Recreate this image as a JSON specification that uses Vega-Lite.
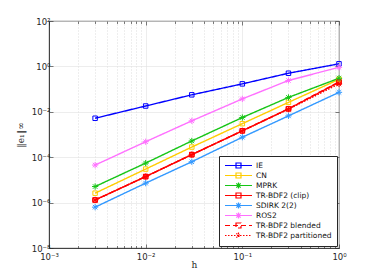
{
  "$schema": "https://vega.github.io/schema/vega-lite/v6.json",
  "width": 290,
  "height": 227,
  "autosize": {"type": "none"},
  "padding": {"left": 49, "top": 21, "right": 35, "bottom": 32},
  "background": "white",
  "config": {
    "view": {"stroke": "#262626", "strokeWidth": 0.8},
    "font": "DejaVu Sans",
    "axis": {"domainColor": "#262626", "tickColor": "#262626", "labelColor": "#262626", "labelFontSize": 8.5, "labelFont": "DejaVu Sans", "titleColor": "#262626", "titleFontWeight": "normal", "titleFont": "DejaVu Serif", "titleFontSize": 9}
  },
  "data": {"values": [
    {"method": "IE", "h": 0.003, "err": 0.0052},
    {"method": "IE", "h": 0.01, "err": 0.018},
    {"method": "IE", "h": 0.03, "err": 0.056},
    {"method": "IE", "h": 0.1, "err": 0.17},
    {"method": "IE", "h": 0.3, "err": 0.5},
    {"method": "IE", "h": 1, "err": 1.3},
    {"method": "CN", "h": 0.003, "err": 2.6e-6},
    {"method": "CN", "h": 0.01, "err": 3.0e-5},
    {"method": "CN", "h": 0.03, "err": 2.8e-4},
    {"method": "CN", "h": 0.1, "err": 3.0e-3},
    {"method": "CN", "h": 0.3, "err": 2.6e-2},
    {"method": "CN", "h": 1, "err": 0.27},
    {"method": "MPRK", "h": 0.003, "err": 5.1e-6},
    {"method": "MPRK", "h": 0.01, "err": 5.5e-5},
    {"method": "MPRK", "h": 0.03, "err": 5.2e-4},
    {"method": "MPRK", "h": 0.1, "err": 5.6e-3},
    {"method": "MPRK", "h": 0.3, "err": 4.3e-2},
    {"method": "MPRK", "h": 1, "err": 0.30},
    {"method": "TR-BDF2 (clip)", "h": 0.003, "err": 1.3e-6},
    {"method": "TR-BDF2 (clip)", "h": 0.01, "err": 1.4e-5},
    {"method": "TR-BDF2 (clip)", "h": 0.03, "err": 1.3e-4},
    {"method": "TR-BDF2 (clip)", "h": 0.1, "err": 1.45e-3},
    {"method": "TR-BDF2 (clip)", "h": 0.3, "err": 1.35e-2},
    {"method": "TR-BDF2 (clip)", "h": 1, "err": 0.2},
    {"method": "SDIRK 2(2)", "h": 0.003, "err": 6.3e-7},
    {"method": "SDIRK 2(2)", "h": 0.01, "err": 7.2e-6},
    {"method": "SDIRK 2(2)", "h": 0.03, "err": 6.3e-5},
    {"method": "SDIRK 2(2)", "h": 0.1, "err": 7.6e-4},
    {"method": "SDIRK 2(2)", "h": 0.3, "err": 6.6e-3},
    {"method": "SDIRK 2(2)", "h": 1, "err": 0.072},
    {"method": "ROS2", "h": 0.003, "err": 4.5e-5},
    {"method": "ROS2", "h": 0.01, "err": 4.8e-4},
    {"method": "ROS2", "h": 0.03, "err": 4.0e-3},
    {"method": "ROS2", "h": 0.1, "err": 3.7e-2},
    {"method": "ROS2", "h": 0.3, "err": 0.24},
    {"method": "ROS2", "h": 1, "err": 0.91},
    {"method": "TR-BDF2 blended", "h": 0.003, "err": 1.3e-6},
    {"method": "TR-BDF2 blended", "h": 0.01, "err": 1.4e-5},
    {"method": "TR-BDF2 blended", "h": 0.03, "err": 1.3e-4},
    {"method": "TR-BDF2 blended", "h": 0.1, "err": 1.45e-3},
    {"method": "TR-BDF2 blended", "h": 0.3, "err": 1.35e-2},
    {"method": "TR-BDF2 blended", "h": 1, "err": 0.21},
    {"method": "TR-BDF2 partitioned", "h": 0.003, "err": 1.3e-6},
    {"method": "TR-BDF2 partitioned", "h": 0.01, "err": 1.4e-5},
    {"method": "TR-BDF2 partitioned", "h": 0.03, "err": 1.3e-4},
    {"method": "TR-BDF2 partitioned", "h": 0.1, "err": 1.45e-3},
    {"method": "TR-BDF2 partitioned", "h": 0.3, "err": 1.3e-2},
    {"method": "TR-BDF2 partitioned", "h": 1, "err": 0.17}
  ]},
  "resolve": {"axis": {"x": "independent", "y": "independent"}},
  "layer": [
    {
      "mark": {"type": "line", "strokeWidth": 1.4, "clip": true},
      "encoding": {
        "x": {"field": "h", "type": "quantitative", "title": "h",
          "scale": {"type": "log", "domain": [0.001, 1], "nice": false},
          "axis": {
            "orient": "bottom",
            "values": [0.001,0.002,0.003,0.004,0.005,0.006,0.007,0.008,0.009,0.01,0.02,0.03,0.04,0.05,0.06,0.07,0.08,0.09,0.1,0.2,0.3,0.4,0.5,0.6,0.7,0.8,0.9,1],
            "labelExpr": "datum.value==0.001?'10⁻³':datum.value==0.01?'10⁻²':datum.value==0.1?'10⁻¹':datum.value==1?'10⁰':''",
            "labelPadding": 8,
            "labelFlush": false,
            "labelOverlap": false,
            "tickSize": {"condition": {"test": "datum.value==0.001||datum.value==0.01||datum.value==0.1||datum.value==1", "value": -4}, "value": -2.5},
            "tickWidth": 0.6,
            "grid": true,
            "gridDash": {"condition": {"test": "datum.value==0.001||datum.value==0.01||datum.value==0.1||datum.value==1", "value": []}, "value": [1, 2]},
            "gridColor": {"condition": {"test": "datum.value==0.001||datum.value==0.01||datum.value==0.1||datum.value==1", "value": "#e0e0e0"}, "value": "#c8c8c8"},
            "gridWidth": 0.6,
            "titlePadding": -2,
            "domainWidth": 0.8
          }},
        "y": {"field": "err", "type": "quantitative", "title": "‖e₁‖∞",
          "scale": {"type": "log", "domain": [1e-8, 100], "nice": false},
          "axis": {
            "orient": "left",
            "values": [1e-8, 1e-6, 1e-4, 1e-2, 1, 100],
            "labelExpr": "datum.value==1e-8?'10⁻⁸':datum.value==1e-6?'10⁻⁶':datum.value==1e-4?'10⁻⁴':datum.value==1e-2?'10⁻²':datum.value==1?'10⁰':'10²'",
            "labelPadding": 3,
            "labelFlush": false,
            "tickSize": -4,
            "tickWidth": 0.6,
            "grid": true,
            "gridColor": "#e0e0e0",
            "gridWidth": 0.6,
            "titlePadding": 6,
            "domainWidth": 0.8
          }},
        "color": {"field": "method", "type": "nominal",
          "scale": {"domain": ["IE", "CN", "MPRK", "TR-BDF2 (clip)", "SDIRK 2(2)", "ROS2", "TR-BDF2 blended", "TR-BDF2 partitioned"],
                    "range": ["#0000ff", "#ffcc00", "#16c516", "#ff0000", "#3399ff", "#ff70ff", "#ff0000", "#ff0000"]},
          "legend": {
            "title": null,
            "orient": "bottom-right",
            "offset": 2,
            "fillColor": "white",
            "strokeColor": "#262626",
            "padding": 5,
            "symbolSize": 49,
            "symbolStrokeWidth": 1.2,
            "labelFontSize": 7.5,
            "labelFont": "DejaVu Sans",
            "labelColor": "#111111",
            "labelOffset": 23,
            "rowPadding": -1.9,
            "encode": {
              "symbols": {"update": {
                "shape": {"signal": "(datum.value==='IE'||datum.value==='CN'||datum.value==='TR-BDF2 (clip)'||datum.value==='TR-BDF2 blended') ? 'M-1,0L6.714,0M2.143,-0.714h1.428v1.428h-1.428z' : 'M-1,0L6.714,0M2.857,-0.857L2.857,0.857M2.247,-0.61L3.467,0.61M2.247,0.61L3.467,-0.61'"},
                "strokeDash": {"signal": "datum.value==='TR-BDF2 blended' ? [4,2.5] : datum.value==='TR-BDF2 partitioned' ? [1,1] : [1,0]"},
                "fill": {"value": "transparent"},
                "stroke": {"scale": "color", "field": "value"},
                "strokeWidth": {"value": 1.2},
                "opacity": {"value": 1}
              }}
            }
          }},
        "strokeDash": {"field": "method", "type": "nominal",
          "scale": {"domain": ["IE", "CN", "MPRK", "TR-BDF2 (clip)", "SDIRK 2(2)", "ROS2", "TR-BDF2 blended", "TR-BDF2 partitioned"],
                    "range": [[1,0],[1,0],[1,0],[1,0],[1,0],[1,0],[5,3],[1.5,1.5]]},
          "legend": null}
      }
    },
    {
      "transform": [{"filter": {"field": "method", "oneOf": ["IE", "CN", "TR-BDF2 (clip)", "TR-BDF2 blended"]}}],
      "mark": {"type": "point", "filled": false, "size": 20, "strokeWidth": 1, "opacity": 1, "clip": false, "shape": "M-1,-1h2v2h-2z"},
      "encoding": {
        "x": {"field": "h", "type": "quantitative",
          "scale": {"type": "log", "domain": [0.001, 1], "nice": false},
          "axis": {"orient": "top", "title": null, "labels": false, "domain": false, "grid": false,
            "values": [0.001,0.002,0.003,0.004,0.005,0.006,0.007,0.008,0.009,0.01,0.02,0.03,0.04,0.05,0.06,0.07,0.08,0.09,0.1,0.2,0.3,0.4,0.5,0.6,0.7,0.8,0.9,1],
            "tickSize": {"condition": {"test": "datum.value==0.001||datum.value==0.01||datum.value==0.1||datum.value==1", "value": -4}, "value": -2.5},
            "tickWidth": 0.6}},
        "y": {"field": "err", "type": "quantitative",
          "scale": {"type": "log", "domain": [1e-8, 100], "nice": false},
          "axis": {"orient": "right", "title": null, "labels": false, "domain": false, "grid": false,
            "values": [1e-8, 1e-6, 1e-4, 1e-2, 1, 100], "tickSize": -4, "tickWidth": 0.6}},
        "color": {"field": "method", "type": "nominal", "legend": null}
      }
    },
    {
      "transform": [{"filter": {"field": "method", "oneOf": ["MPRK", "SDIRK 2(2)", "ROS2", "TR-BDF2 partitioned"]}}],
      "mark": {"type": "point", "filled": false, "size": 20, "strokeWidth": 1, "opacity": 1, "clip": false, "shape": "M-1.4,0L1.4,0M0,-1.4L0,1.4M-1,-1L1,1M-1,1L1,-1"},
      "encoding": {
        "x": {"field": "h", "type": "quantitative", "axis": null},
        "y": {"field": "err", "type": "quantitative", "axis": null},
        "color": {"field": "method", "type": "nominal", "legend": null}
      }
    }
  ]
}
